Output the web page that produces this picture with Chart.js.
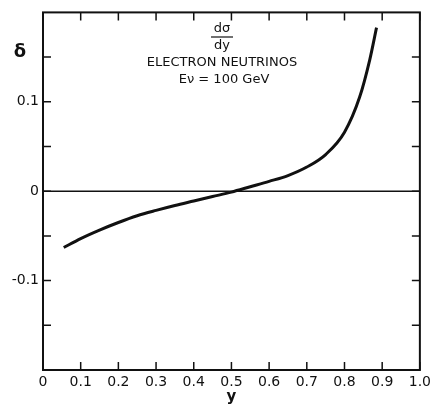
<!DOCTYPE html>
<html>
<head>
<meta charset="utf-8">
<script src="https://cdn.jsdelivr.net/npm/chart.js@4/dist/chart.umd.min.js"></script>
<style>
  html,body{margin:0;padding:0;background:#fff;}
  #wrap{width:435px;height:406px;}
</style>
</head>
<body>
<div id="wrap"><canvas id="c" width="435" height="406"></canvas></div>
<script>
// Data (x = y-variable, value = delta)
const yVar  = [0.055, 0.1, 0.15, 0.2, 0.25, 0.3, 0.35, 0.4, 0.45, 0.5, 0.55, 0.6, 0.65, 0.7, 0.75, 0.8, 0.84, 0.867, 0.885];
const delta = [-0.063, -0.053, -0.0435, -0.035, -0.0275, -0.0215, -0.016, -0.011, -0.006, -0.001, 0.005, 0.011, 0.0175, 0.027, 0.041, 0.066, 0.105, 0.147, 0.183];
const xTicks = [0, 0.1, 0.2, 0.3, 0.4, 0.5, 0.6, 0.7, 0.8, 0.9, 1.0];
const yTickMarks = [-0.15, -0.1, -0.05, 0, 0.05, 0.1, 0.15];
const yTickLabels = {"-0.1": "-0.1", "0": "0", "0.1": "0.1"};
const titleLines = ["ELECTRON NEUTRINOS", "E\u03BD = 100 GeV"];

const FONT = "'DejaVu Sans', sans-serif";
const INK = '#111';

const points = yVar.map((x, i) => ({x: x, y: delta[i]}));

const framePlugin = {
  id: 'frame',
  afterDraw(chart) {
    const {ctx, chartArea: a, scales: {x, y}} = chart;
    ctx.save();
    ctx.strokeStyle = INK;
    ctx.lineWidth = 2;
    ctx.strokeRect(a.left, a.top, a.right - a.left, a.bottom - a.top);
    // inward ticks
    ctx.lineWidth = 1.5;
    const tl = 8;
    ctx.beginPath();
    xTicks.forEach(v => {
      const px = x.getPixelForValue(v);
      ctx.moveTo(px, a.bottom); ctx.lineTo(px, a.bottom - tl);
      ctx.moveTo(px, a.top); ctx.lineTo(px, a.top + tl);
    });
    yTickMarks.forEach(v => {
      const py = y.getPixelForValue(v);
      ctx.moveTo(a.left, py); ctx.lineTo(a.left + tl, py);
      ctx.moveTo(a.right, py); ctx.lineTo(a.right - tl, py);
    });
    ctx.stroke();
    // zero line
    ctx.lineWidth = 1.5;
    const z = y.getPixelForValue(0);
    ctx.beginPath(); ctx.moveTo(a.left, z); ctx.lineTo(a.right, z); ctx.stroke();

    // delta symbol
    ctx.fillStyle = INK;
    ctx.font = 'bold 18px ' + FONT;
    ctx.textAlign = 'center';
    ctx.textBaseline = 'middle';
    ctx.fillText('\u03B4', 20, y.getPixelForValue(0.155));

    // annotation text block
    const cx = x.getPixelForValue(0.475);
    ctx.font = '13px ' + FONT;
    ctx.fillText('d\u03C3', cx, 29);
    ctx.lineWidth = 1.2;
    ctx.beginPath(); ctx.moveTo(cx - 11, 37); ctx.lineTo(cx + 11, 37); ctx.stroke();
    ctx.fillText('dy', cx, 46);
    ctx.fillText(titleLines[0], cx, 63);
    ctx.fillText(titleLines[1], cx + 2, 80);
    ctx.restore();
  }
};

new Chart(document.getElementById('c'), {
  type: 'line',
  data: {
    datasets: [{
      data: points,
      borderColor: INK,
      borderWidth: 3,
      pointRadius: 0,
      fill: false,
      cubicInterpolationMode: 'monotone'
    }]
  },
  options: {
    responsive: false,
    animation: false,
    layout: {padding: {top: 9, right: 15, left: 0, bottom: 0}},
    plugins: {legend: {display: false}, tooltip: {enabled: false}},
    scales: {
      x: {
        type: 'linear', min: 0, max: 1,
        afterFit(s) { s.height = 36; },
        afterBuildTicks(s) { s.ticks = xTicks.map(v => ({value: v})); },
        grid: {display: false, drawTicks: false},
        border: {display: false},
        ticks: {
          padding: 4,
          color: INK,
          font: {family: FONT, size: 14},
          maxRotation: 0,
          autoSkip: false,
          callback: v => (Math.abs(v) < 1e-9 ? '0' : v.toFixed(1))
        },
        title: {display: true, text: 'y', color: INK, font: {family: FONT, size: 15, weight: 'bold'}, padding: {top: 0, bottom: 0}}
      },
      y: {
        type: 'linear', min: -0.2, max: 0.2,
        afterFit(s) { s.width = 43; },
        afterBuildTicks(s) { s.ticks = yTickMarks.map(v => ({value: v})); },
        grid: {display: false, drawTicks: false},
        border: {display: false},
        ticks: {
          padding: 4,
          color: INK,
          font: {family: FONT, size: 14},
          autoSkip: false,
          callback: v => {
            const k = String(Math.round(v * 100) / 100);
            return yTickLabels[k] !== undefined ? yTickLabels[k] : '';
          }
        }
      }
    }
  },
  plugins: [framePlugin]
});
</script>
</body>
</html>
